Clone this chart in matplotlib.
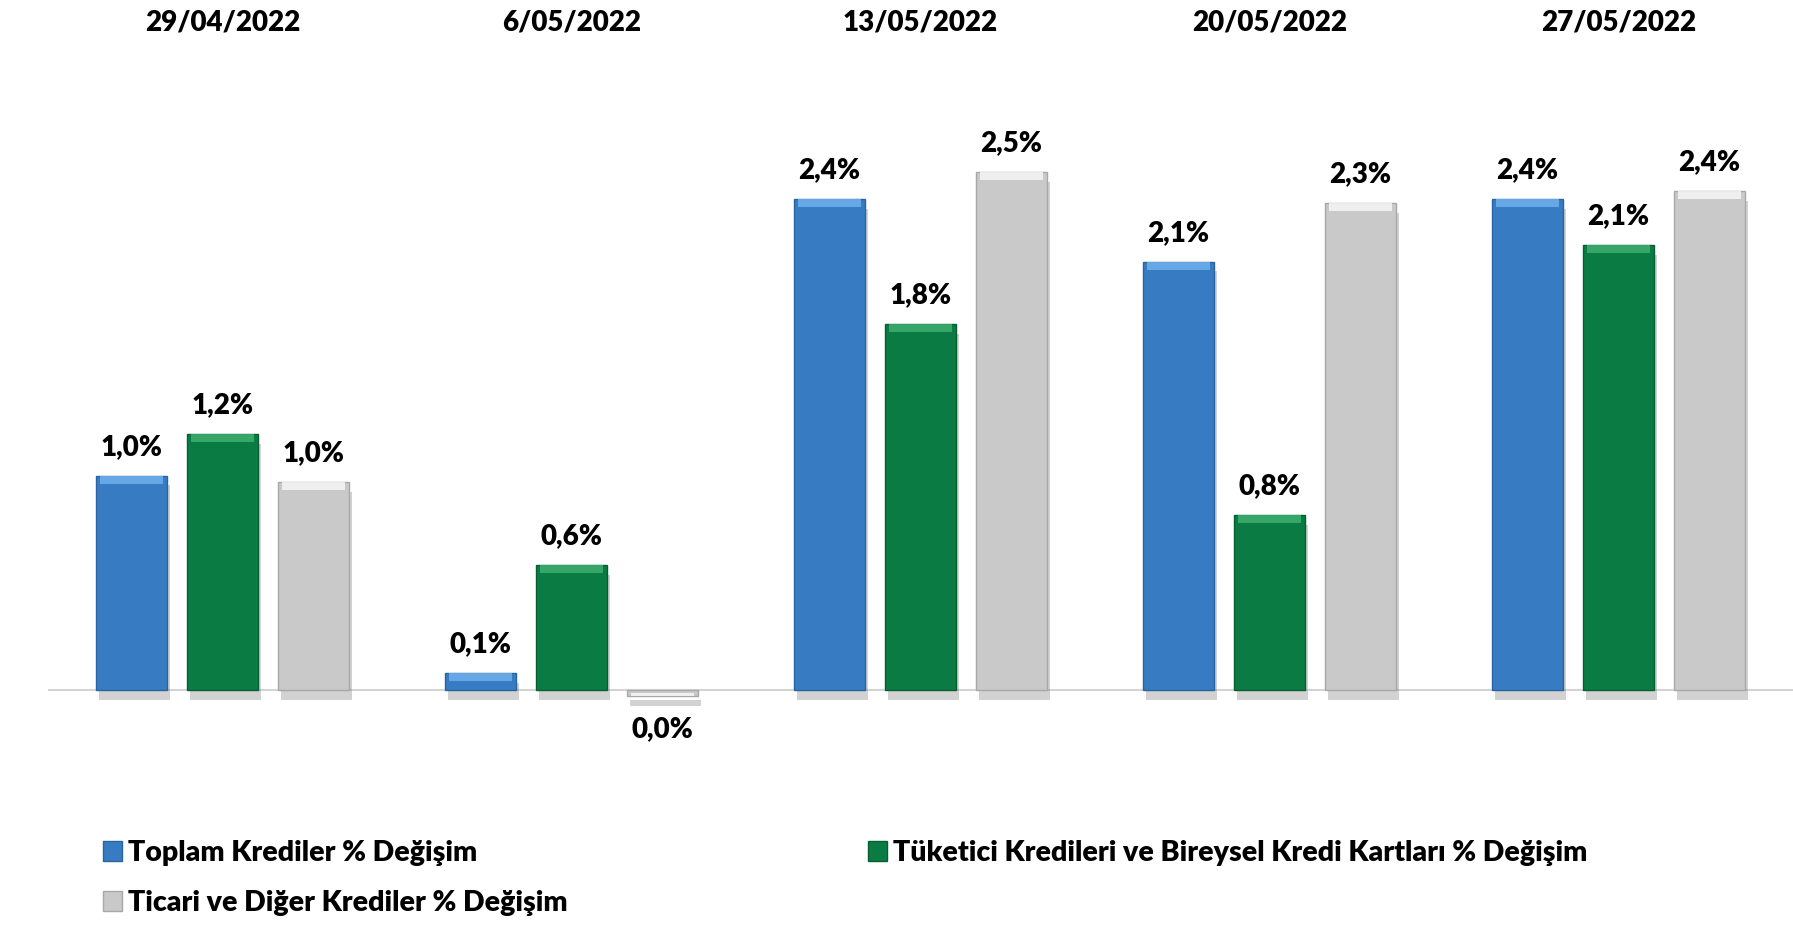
import numpy as np
import matplotlib.pyplot as plt
import matplotlib.patheffects as pe
import matplotlib.transforms as mtransforms
from matplotlib.patches import Patch

# dates shown above each group
dates = ["29/04/2022", "6/05/2022", "13/05/2022", "20/05/2022", "27/05/2022"]

# weekly % changes
toplam = [1.03, 0.08, 2.36, 2.06, 2.36]
tuketici = [1.23, 0.60, 1.76, 0.84, 2.14]
ticari = [1.00, -0.03, 2.49, 2.34, 2.40]

series_names = ["Toplam Krediler % Değişim",
                "Tüketici Kredileri ve Bireysel Kredi Kartları % Değişim",
                "Ticari ve Diğer Krediler % Değişim"]
colors = ["#377cc2", "#0a7c43", "#c9c9c9"]
edge_colors = ["#2a64a0", "#075e32", "#a8a8a8"]
top_colors = ["#6fb0ec", "#3fae70", "#f6f6f6"]

plt.rcParams['font.family'] = ['Lato', 'DejaVu Sans']

fig = plt.figure(figsize=(17.93, 9.25), dpi=100)
ax = fig.add_axes([48 / 1793, 125 / 925, 1 - 48 / 1793, 700 / 925])

px_per_unit = 208
ax.set_xlim(-0.5, 4.5)
ax.set_ylim(-(800 - 690) / px_per_unit, (690 - 100) / px_per_unit)

x = np.arange(len(dates))
offsets = [-0.261, 0, 0.261]
width = 0.203
bevel = 8 / px_per_unit

shadow = [pe.SimplePatchShadow(offset=(2, -7), shadow_rgbFace='#606060', alpha=0.28), pe.Normal()]

for vals, off, col, ecol, tcol in zip([toplam, tuketici, ticari], offsets, colors, edge_colors, top_colors):
    vals = np.array(vals)
    bars = ax.bar(x + off, vals, width, color=col, edgecolor=ecol, linewidth=1.0, zorder=3)
    for b in bars:
        b.set_path_effects(shadow)
    # light bevel strip on the top end of each bar
    hts = np.minimum(bevel, np.abs(vals) * 0.5)
    bottoms = np.where(vals >= 0, vals - hts, vals)
    ax.bar(x + off, hts, width * 0.9, bottom=bottoms, color=tcol, alpha=0.85, zorder=4, linewidth=0)
    for xi, v in zip(x + off, vals):
        lbl = f"{round(v, 1) + 0.0:.1f}%".replace(".", ",")
        if v >= 0:
            ax.annotate(lbl, (xi, v), xytext=(0, 15), textcoords='offset points',
                        ha='center', va='baseline', fontsize=20, fontweight='heavy', zorder=5)
        else:
            ax.annotate(lbl, (xi, v), xytext=(0, -14), textcoords='offset points',
                        ha='center', va='top', fontsize=20, fontweight='heavy', zorder=5)

ax.axhline(0, color='#d4d4d4', linewidth=1.5, zorder=2)

for s in ax.spines.values():
    s.set_visible(False)
ax.set_xticks([])
ax.set_yticks([])

trans = mtransforms.blended_transform_factory(ax.transData, fig.transFigure)
for xi, d in zip(x, dates):
    ax.text(xi, 1 - 23 / 925, d, transform=trans, ha='center', va='center',
            fontsize=20, fontweight='heavy')

handles = [Patch(facecolor=colors[0], edgecolor=edge_colors[0]),
           Patch(facecolor=colors[2], edgecolor=edge_colors[2]),
           Patch(facecolor=colors[1], edgecolor=edge_colors[1])]
labels = [series_names[0], series_names[2], series_names[1]]
fig.legend(handles, labels, loc='upper left', bbox_to_anchor=(103 / 1793, 1 - 840 / 925),
           ncol=2, frameon=False, prop={'weight': 'heavy', 'size': 20.5},
           handlelength=0.66, handleheight=0.75, handletextpad=0.22,
           columnspacing=10.55, labelspacing=0.84, borderpad=0, borderaxespad=0)

fig.savefig("out.png", dpi=100)
